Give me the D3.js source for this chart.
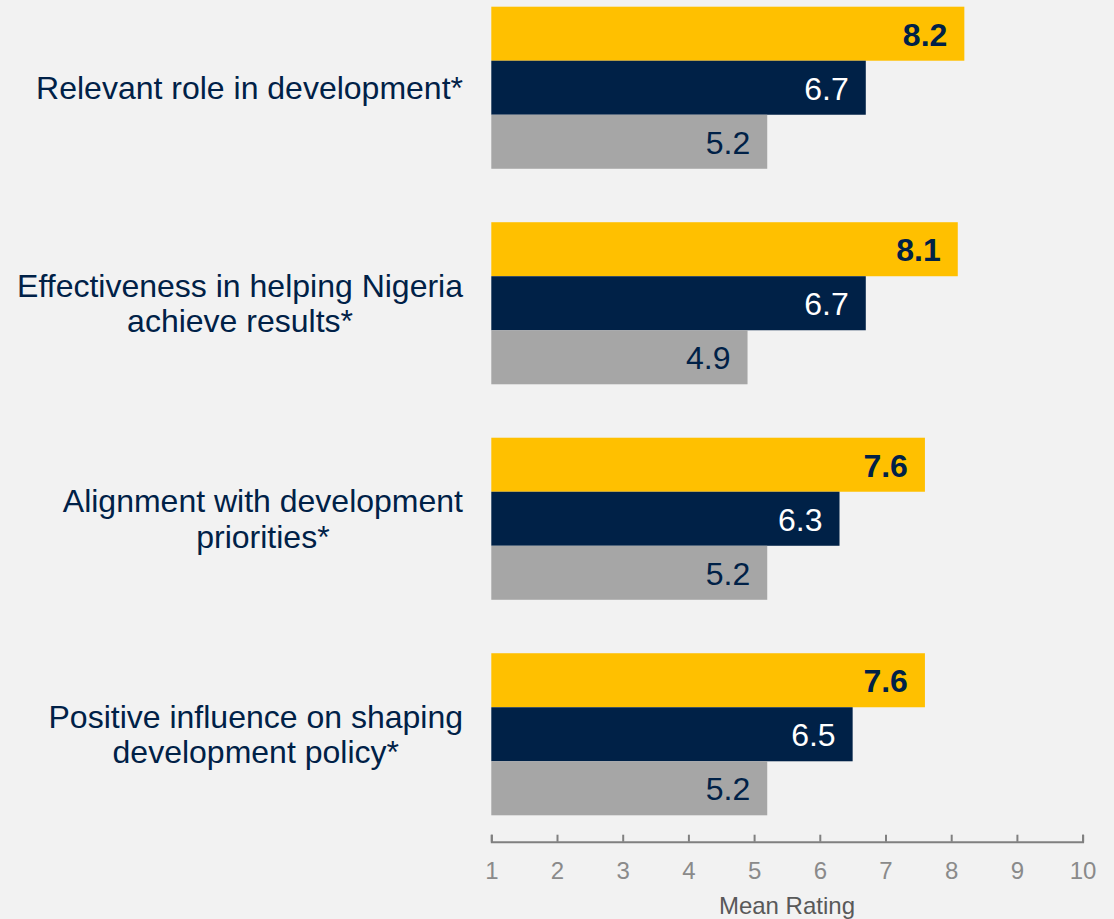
<!DOCTYPE html>
<html>
<head>
<meta charset="utf-8">
<script src="https://cdn.jsdelivr.net/npm/d3@7"></script>
<style>
  html, body { margin: 0; padding: 0; background: #f2f2f2; }
  svg { display: block; font-family: "Liberation Sans", Arial, sans-serif; }
</style>
</head>
<body>
<svg width="1114" height="919"></svg>
<script>
// data
const categories = [
  ["Relevant role in development*"],
  ["Effectiveness in helping Nigeria", "achieve results*"],
  ["Alignment with development", "priorities*"],
  ["Positive influence on shaping", "development policy*"]
];
const seriesNames = ["s1", "s2", "s3"];
const series1 = [8.2, 8.1, 7.6, 7.6];
const series2 = [6.7, 6.7, 6.3, 6.5];
const series3 = [5.2, 4.9, 5.2, 5.2];
const tickValues = [1, 2, 3, 4, 5, 6, 7, 8, 9, 10];

const colors = ["#ffc000", "#002147", "#a6a6a6"];
const labelColors = ["#002147", "#ffffff", "#002147"];
const labelWeights = ["bold", "normal", "normal"];

const svg = d3.select("svg");

const x = d3.scaleLinear().domain([1, 10]).range([491.3, 1082.6]);
const y = d3.scaleBand()
  .domain(d3.range(categories.length))
  .range([6.7, 815.3])
  .paddingInner(0.248)
  .paddingOuter(0);
const ySub = d3.scaleBand()
  .domain(seriesNames)
  .range([0, y.bandwidth()]);

const rows = categories.map((c, i) => ({
  lines: c,
  values: [series1[i], series2[i], series3[i]]
}));

const group = svg.selectAll("g.group")
  .data(rows)
  .enter().append("g")
    .attr("class", "group")
    .attr("transform", (d, i) => `translate(0,${y(i)})`);

group.selectAll("rect")
  .data(d => d.values)
  .enter().append("rect")
    .attr("x", x(1))
    .attr("y", (d, j) => ySub(seriesNames[j]))
    .attr("width", d => x(d) - x(1))
    .attr("height", ySub.bandwidth())
    .attr("fill", (d, j) => colors[j]);

group.selectAll("text.value")
  .data(d => d.values)
  .enter().append("text")
    .attr("class", "value")
    .attr("x", d => x(d) - 17)
    .attr("y", (d, j) => ySub(seriesNames[j]) + ySub.bandwidth() / 2)
    .attr("dy", "0.37em")
    .attr("text-anchor", "end")
    .attr("font-size", 32)
    .attr("font-weight", (d, j) => labelWeights[j])
    .attr("fill", (d, j) => labelColors[j])
    .text(d => d.toFixed(1));

// category labels
const lineH = 35.5;
group.append("text")
  .attr("class", "cat")
  .attr("text-anchor", "middle")
  .attr("font-size", 32)
  .attr("fill", "#002147")
  .selectAll("tspan")
  .data(d => d.lines.map((t, k) => ({ t, k, n: d.lines.length })))
  .enter().append("tspan")
    .attr("x", 242)
    .attr("y", d => y.bandwidth() / 2 + (d.k - (d.n - 1) / 2) * lineH)
    .attr("dy", "0.35em")
    .text(d => d.t);

// right-align the category block at x=463, lines centred within it
group.selectAll("text.cat").each(function () {
  const tspans = d3.select(this).selectAll("tspan");
  let maxW = 0;
  tspans.each(function () { maxW = Math.max(maxW, this.getComputedTextLength()); });
  tspans.attr("x", 463 - maxW / 2);
});

// axis
const axis = d3.axisBottom(x)
  .tickValues(tickValues)
  .tickSize(-7)
  .tickPadding(20)
  .tickFormat(d3.format("d"));

const ax = svg.append("g")
  .attr("transform", "translate(0,841.7)")
  .call(axis);

ax.select(".domain").attr("stroke", "#808080").attr("stroke-width", 2);
ax.selectAll(".tick line").attr("stroke", "#808080").attr("stroke-width", 2);
ax.selectAll(".tick text")
  .attr("fill", "#8a8a8a")
  .attr("font-size", 24)
  .attr("font-family", "Liberation Sans, Arial, sans-serif");

svg.append("text")
  .attr("x", (x(1) + x(10)) / 2)
  .attr("y", 914)
  .attr("text-anchor", "middle")
  .attr("font-size", 24)
  .attr("fill", "#595959")
  .text("Mean Rating");
</script>
</body>
</html>
